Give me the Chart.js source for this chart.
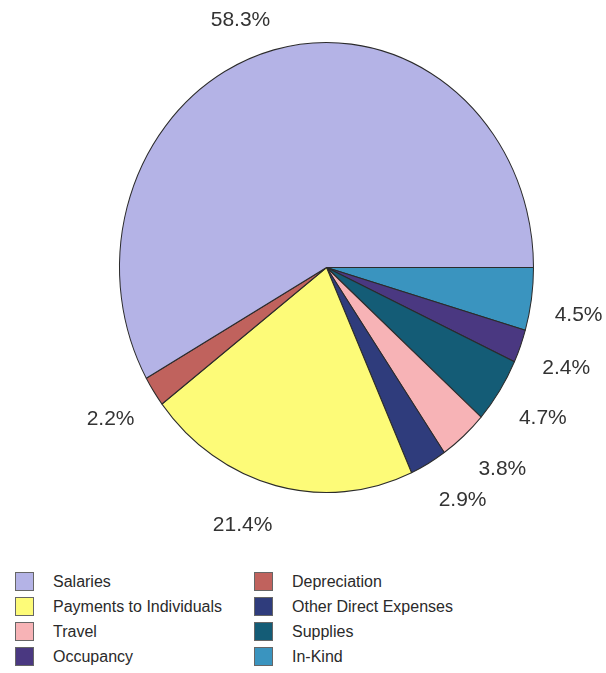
<!DOCTYPE html>
<html>
<head>
<meta charset="utf-8">
<script src="https://cdn.jsdelivr.net/npm/chart.js@4"></script>
<style>
  html, body { margin: 0; padding: 0; background: #fff; }
  #wrap { position: relative; width: 606px; height: 673px; font-family: "Liberation Sans", Arial, sans-serif; }
  #box { position: absolute; left: 0; top: 0; width: 606px; height: 560px; }
  #legend { position: absolute; left: 0; top: 572px; width: 606px; }
  .item { position: absolute; height: 20px; line-height: 20px; font-size: 16px; color: #2a2a2a; white-space: nowrap; }
  .item span.sw { position: absolute; left: 0; top: 0; width: 19px; height: 19px; border: 1px solid #666; box-sizing: border-box; }
  .item span.tx { position: absolute; left: 38px; top: 0; }
</style>
</head>
<body>
<div id="wrap">
  <div id="box"><canvas id="pie"></canvas></div>
  <div id="legend"></div>
</div>
<script>
(() => {
    // legend order = counter-clockwise order from 3 o'clock
    const categories = ['Salaries', 'Depreciation', 'Payments to Individuals', 'Other Direct Expenses',
                        'Travel', 'Supplies', 'Occupancy', 'In-Kind'];
    const values = [58.3, 2.2, 21.4, 2.9, 3.8, 4.7, 2.4, 4.5];
    const colors = ['#b4b3e6', '#c0625d', '#fdfb78', '#2f3c7c', '#f7b3b6', '#145c76', '#4a3881', '#3a94bf'];
    const legendRows = [['Salaries', 'Depreciation'], ['Payments to Individuals', 'Other Direct Expenses'],
                        ['Travel', 'Supplies'], ['Occupancy', 'In-Kind']];

    const stretchY = 1.087; // scanned pie is a bit taller than wide
    const labelK = 1.125;

    // Chart.js goes clockwise, so feed the slices in reverse
    const cwLabels = categories.slice().reverse();
    const cwValues = values.slice().reverse();
    const cwColors = colors.slice().reverse();

    const stretchPlugin = {
        id: 'stretch',
        beforeDatasetsDraw(chart) {
            const arc = chart.getDatasetMeta(0).data[0];
            const ctx = chart.ctx;
            ctx.save();
            ctx.translate(arc.x, arc.y);
            ctx.scale(1, stretchY);
            ctx.translate(-arc.x, -arc.y);
        },
        afterDatasetsDraw(chart) {
            chart.ctx.restore();
        }
    };

    // labels sit just outside the rim, nudged away by part of their box
    const pctPlugin = {
        id: 'pctLabels',
        afterDraw(chart) {
            const ctx = chart.ctx;
            const meta = chart.getDatasetMeta(0);
            ctx.save();
            ctx.font = '21px "Liberation Sans", Arial, sans-serif';
            ctx.fillStyle = '#333';
            ctx.textAlign = 'center';
            ctx.textBaseline = 'middle';
            meta.data.forEach((arc, i) => {
                const txt = cwValues[i].toFixed(1) + '%';
                const w = ctx.measureText(txt).width;
                const mid = (arc.startAngle + arc.endAngle) / 2;
                const r = arc.outerRadius * labelK;
                const c = Math.cos(mid), s = Math.sin(mid);
                const x = arc.x + c * r + Math.sign(c) * w * 0.45;
                const y = arc.y + s * r * stretchY + (s > 0 ? 12 : -2);
                ctx.fillText(txt, x, y);
            });
            ctx.restore();
        }
    };

    new Chart(document.getElementById('pie'), {
        type: 'pie',
        data: {
            labels: cwLabels,
            datasets: [{
                data: cwValues,
                backgroundColor: cwColors,
                borderColor: '#2b2b2b',
                borderWidth: 1,
                hoverOffset: 0
            }]
        },
        options: {
            responsive: true,
            maintainAspectRatio: false,
            animation: false,
            rotation: 90,
            layout: { padding: { left: 119, right: 72, top: 60, bottom: 85 } },
            plugins: {
                legend: { display: false },
                tooltip: { enabled: false }
            }
        },
        plugins: [stretchPlugin, pctPlugin]
    });

    // two-column legend
    const legend = document.getElementById('legend');
    const colX = [15, 254];
    legendRows.forEach((row, r) => {
        row.forEach((name, c) => {
            const idx = categories.indexOf(name);
            const item = document.createElement('div');
            item.className = 'item';
            item.style.left = colX[c] + 'px';
            item.style.top = (r * 25) + 'px';
            item.innerHTML = '<span class="sw" style="background:' + colors[idx] + '"></span><span class="tx">' + name + '</span>';
            legend.appendChild(item);
        });
    });
})();
</script>
</body>
</html>
